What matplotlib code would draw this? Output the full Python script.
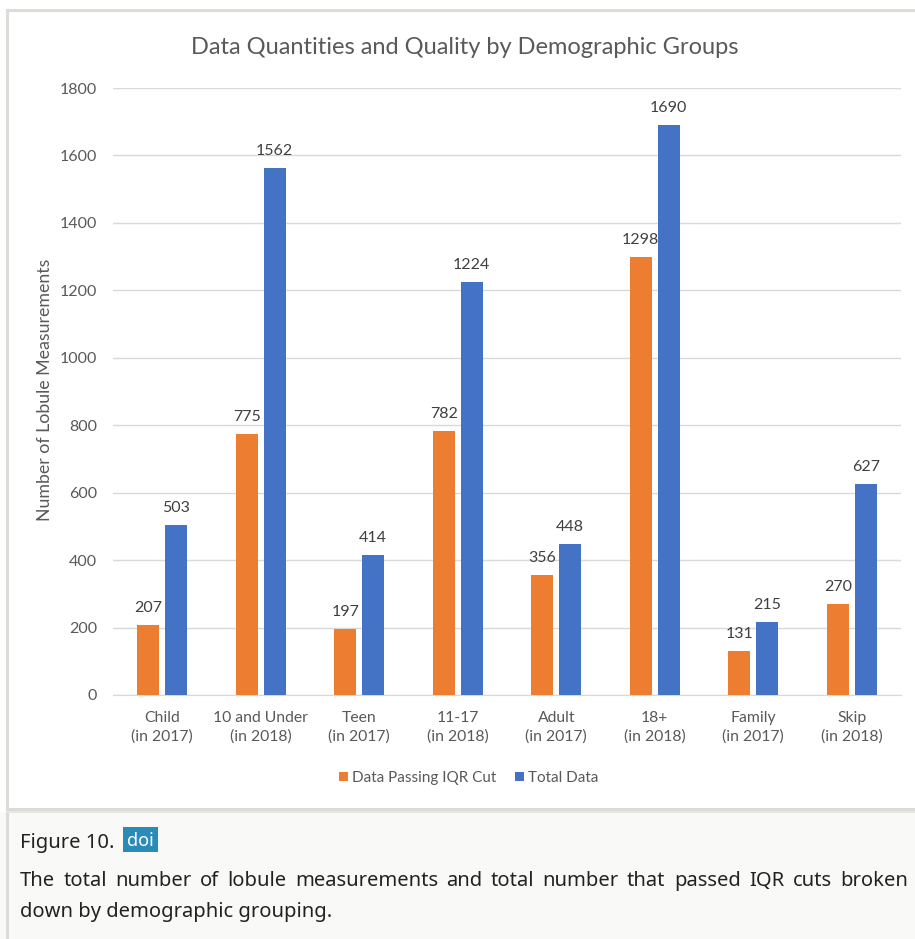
import numpy as np
import matplotlib
matplotlib.use("Agg")
import matplotlib.pyplot as plt
from matplotlib.patches import Rectangle
from matplotlib.lines import Line2D

# data
groups = ["Child\n(in 2017)", "10 and Under\n(in 2018)", "Teen\n(in 2017)", "11-17\n(in 2018)",
          "Adult\n(in 2017)", "18+\n(in 2018)", "Family\n(in 2017)", "Skip\n(in 2018)"]
passing_iqr = [207, 775, 197, 782, 356, 1298, 131, 270]
total_data = [503, 1562, 414, 1224, 448, 1690, 215, 627]
series_names = ["Data Passing IQR Cut", "Total Data"]
yticks = [0, 200, 400, 600, 800, 1000, 1200, 1400, 1600, 1800]

caption_title = "Figure 10."
caption_line1 = "The total number of lobule measurements and total number that passed IQR cuts broken"
caption_line2 = "down by demographic grouping."

W, H = 915, 939
orange = "#ED7D31"
blue = "#4472C4"
grey_txt = "#595959"
grid_col = "#d9d9d9"
font = "Lato"

fig = plt.figure(figsize=(W / 100, H / 100), dpi=100)
fig.patch.set_facecolor("white")


# helper: pixel coords (from top-left) to figure fraction
def fx(px):
    return px / W


def fy(py):
    return 1 - py / H


# caption panel background
fig.patches.append(Rectangle((0, 0), 1, fy(812), transform=fig.transFigure,
                             facecolor="#f9f9f7", edgecolor="none", zorder=0))
# frame lines around the chart
fig.add_artist(Line2D([fx(7), 1], [fy(10), fy(10)], color="#dcdcd8", lw=2.2))
fig.add_artist(Line2D([fx(7), fx(7)], [fy(10), 0], color="#dcdcd8", lw=2.2))
fig.add_artist(Line2D([fx(7), 1], [fy(809), fy(809)], color="#dcdcd6", lw=2.2))
fig.add_artist(Line2D([fx(7), 1], [fy(812), fy(812)], color="#e6e6e2", lw=1.5))

# main axes
ax = fig.add_axes([fx(113), fy(695), fx(901) - fx(113), fy(88) - fy(695)])
x = np.arange(len(groups))
bw = 0.223
off = 0.142
b1 = ax.bar(x - off, passing_iqr, bw, color=orange, label=series_names[0], zorder=3)
b2 = ax.bar(x + off, total_data, bw, color=blue, label=series_names[1], zorder=3)

for bars, vals in [(b1, passing_iqr), (b2, total_data)]:
    for r, v in zip(bars, vals):
        ax.annotate(str(v), (r.get_x() + r.get_width() / 2, v), xytext=(0, 9.4),
                    textcoords="offset points", ha="center", va="baseline",
                    fontsize=11.5, color="#404040", family=font)

ax.set_xlim(-0.5, len(groups) - 0.5)
ax.set_ylim(0, 1800)
ax.set_yticks(yticks)
ax.set_xticks(x)
ax.set_xticklabels(groups, fontsize=11.3, color=grey_txt, family=font, linespacing=1.4)
for lab in ax.get_yticklabels():
    lab.set_fontsize(11.5)
    lab.set_color(grey_txt)
    lab.set_family(font)
ax.tick_params(axis="both", length=0)
ax.tick_params(axis="y", pad=11.5)
ax.tick_params(axis="x", pad=11.5)
ax.grid(axis="y", color=grid_col, lw=1, zorder=0)
for s in ["top", "right", "left"]:
    ax.spines[s].set_visible(False)
ax.spines["bottom"].set_color(grid_col)
ax.set_facecolor("none")

# title and y label
fig.text(fx(465), fy(47), "Data Quantities and Quality by Demographic Groups",
         ha="center", va="center", fontsize=17, color=grey_txt, family=font)
fig.text(fx(45), fy(390), "Number of Lobule Measurements", rotation=90,
         ha="center", va="center", fontsize=12.8, color=grey_txt, family=font)

# legend
ax.legend(handles=[b1, b2], loc="center", bbox_to_anchor=(fx(469), fy(778)),
          bbox_transform=fig.transFigure, ncol=2, frameon=False,
          prop={"family": font, "size": 11}, labelcolor=grey_txt,
          handlelength=0.55, handleheight=0.55, handletextpad=0.3, columnspacing=1.25)

# caption
cap_font = "Noto Sans"
fig.text(fx(20), fy(848), caption_title, ha="left", va="baseline",
         fontsize=14.5, color="#222222", family=cap_font)
fig.patches.append(Rectangle((fx(123), fy(852)), fx(158) - fx(123), fy(827) - fy(852),
                             transform=fig.transFigure, facecolor="#2a8ab8",
                             edgecolor="none", zorder=2))
fig.text(fx(140.5), fy(846), "doi", ha="center", va="baseline",
         fontsize=13, color="white", family=cap_font, zorder=3)

# first caption line is justified between x=20 and x=908
renderer = fig.canvas.get_renderer()
words = caption_line1.split()
texts = [fig.text(0, fy(886), w, ha="left", va="baseline", fontsize=14.5,
                  color="#222222", family=cap_font) for w in words]
widths = [t.get_window_extent(renderer).width for t in texts]
gap = (908 - 20 - sum(widths)) / (len(words) - 1)
xpos = 20
for t, w in zip(texts, widths):
    t.set_x(fx(xpos))
    xpos += w + gap
fig.text(fx(20), fy(917), caption_line2, ha="left", va="baseline",
         fontsize=14.5, color="#222222", family=cap_font)

fig.savefig("out.png", dpi=100)
